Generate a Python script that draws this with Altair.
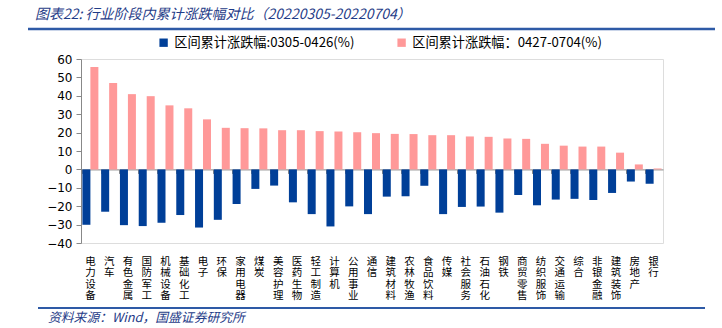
import altair as alt
import pandas as pd

cats = ["电力设备", "汽车", "有色金属", "国防军工", "机械设备", "基础化工", "电子", "环保",
        "家用电器", "煤炭", "美容护理", "医药生物", "轻工制造", "计算机", "公用事业", "通信",
        "建筑材料", "农林牧渔", "食品饮料", "传媒", "社会服务", "石油石化", "钢铁", "商贸零售",
        "纺织服饰", "交通运输", "综合", "非银金融", "建筑装饰", "房地产", "银行"]
v1 = [-30.1, -23.0, -30.3, -30.8, -29.0, -24.8, -31.6, -27.4, -18.8, -10.6, -8.8, -17.9,
      -24.3, -31.0, -20.1, -24.3, -14.8, -14.6, -8.9, -24.3, -20.4, -20.2, -23.5, -13.9,
      -19.5, -16.4, -16.0, -16.6, -12.8, -6.6, -7.8]
v2 = [55.6, 46.9, 40.9, 39.8, 34.8, 33.2, 27.2, 22.6, 22.4, 22.3, 21.3, 21.3, 20.8, 20.6,
      20.2, 19.7, 19.3, 19.2, 18.6, 18.6, 17.9, 17.7, 16.8, 16.6, 13.9, 12.9, 12.4, 12.4,
      9.1, 2.7, 0.5]
s1 = "区间累计涨跌幅:0305-0426(%)"
s2 = "区间累计涨跌幅：0427-0704(%)"
y_ticks = [-40, -30, -20, -10, 0, 10, 20, 30, 40, 50, 60]
title_text = "图表22:  行业阶段内累计涨跌幅对比（20220305-20220704）"
source_text = "资料来源：Wind，国盛证券研究所"

rows = []
for c, a, b in zip(cats, v1, v2):
    rows.append({"cat": c, "series": s1, "value": a})
    rows.append({"cat": c, "series": s2, "value": b})
df = pd.DataFrame(rows)

W, H = 582, 184
BLUE = "#003F98"
PINK = "#FF9999"
CJK = "Noto Sans CJK SC"

bars = alt.Chart(df).mark_bar(size=8).encode(
    x=alt.X("cat:N", sort=cats, title=None,
            scale=alt.Scale(paddingInner=0.15, paddingOuter=0.075),
            axis=alt.Axis(orient="bottom", offset=-H * 40 / 100, labelPadding=H * 40 / 100 + 9,
                          labelAngle=0, labelExpr="split(datum.label, '')",
                          labelFont=CJK, labelFontSize=10.5, labelLineHeight=11.6,
                          labelBaseline="top", labelColor="#000",
                          domainColor="#888", tickColor="#888", tickSize=4,
                          bandPosition=0, grid=False)),
    xOffset=alt.XOffset("series:N", sort=[s1, s2],
                        scale=alt.Scale(paddingInner=0, paddingOuter=0)),
    y=alt.Y("value:Q", title=None,
            scale=alt.Scale(domain=[-40, 60], nice=False, zero=False),
            axis=alt.Axis(values=y_ticks, grid=False, tickSize=5, labelPadding=4,
                          labelFont="DejaVu Sans", labelFontSize=12, labelColor="#000",
                          domainColor="#888", tickColor="#888")),
    color=alt.Color("series:N", sort=[s1, s2],
                    scale=alt.Scale(domain=[s1, s2], range=[BLUE, PINK]),
                    legend=alt.Legend(orient="none", legendX=76, legendY=-23,
                                      direction="horizontal", title=None,
                                      symbolType="square", symbolSize=70,
                                      symbolStrokeWidth=0, labelFont=CJK,
                                      labelFontSize=13.2, labelColor="#000",
                                      columnPadding=40, labelLimit=400)),
)

title = alt.Chart(pd.DataFrame({"t": [title_text]})).mark_text(
    font=CJK, fontSize=14, fontStyle="italic", color="#1F3C88",
    align="left", baseline="middle"
).encode(text="t:N", x=alt.value(-46), y=alt.value(-44))

top_line = alt.Chart(pd.DataFrame({"a": [0]})).mark_rule(
    color="#2E5AA6", strokeWidth=2.5
).encode(x=alt.value(-53), x2=alt.value(634), y=alt.value(-30))

bottom_line = alt.Chart(pd.DataFrame({"a": [0]})).mark_rule(
    color="#2E5AA6", strokeWidth=2
).encode(x=alt.value(-43), x2=alt.value(624), y=alt.value(249))

source = alt.Chart(pd.DataFrame({"t": [source_text]})).mark_text(
    font=CJK, fontSize=12.8, fontStyle="italic", color="#1F3C88",
    align="left", baseline="middle"
).encode(text="t:N", x=alt.value(-33), y=alt.value(259))

chart = alt.layer(bars, title, top_line, bottom_line, source).properties(
    width=W, height=H,
    autosize=alt.AutoSizeParams(type="none"),
    padding={"left": 81, "top": 59, "right": 59, "bottom": 85},
).configure_view(stroke=None).configure(background="white")

chart.save("out.html", embed_options={"renderer": "svg", "actions": False})
